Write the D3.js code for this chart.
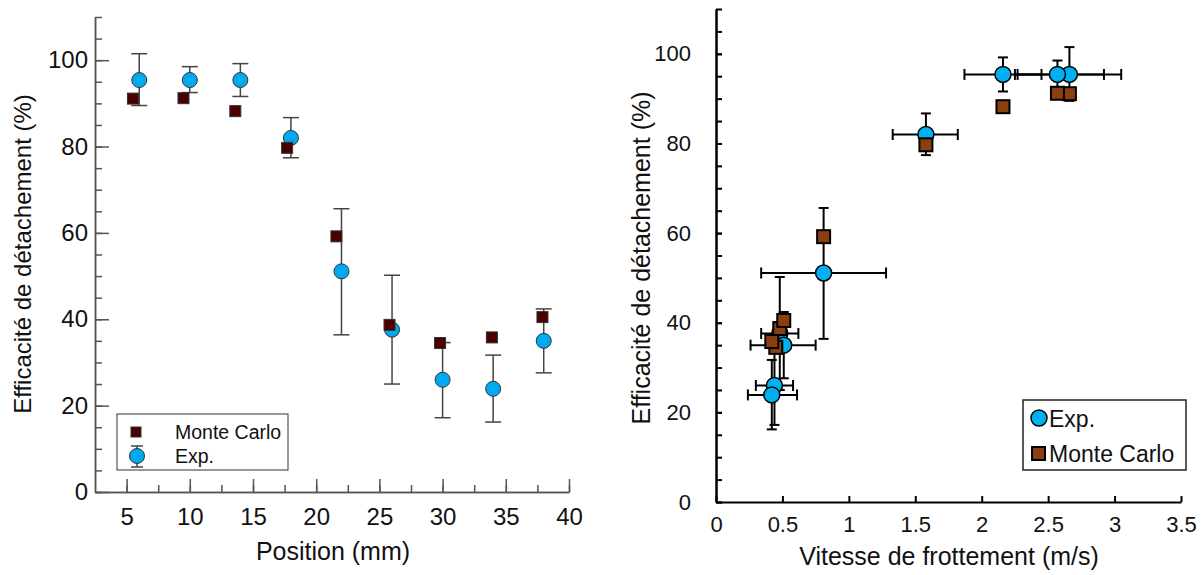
<!DOCTYPE html>
<html>
<head>
<meta charset="utf-8">
<script src="https://cdn.jsdelivr.net/npm/d3@7"></script>
<style>
  html, body { margin: 0; padding: 0; background: #fff; }
  svg { display: block; font-family: "Liberation Sans", Arial, sans-serif; }
  .axL path, .axL line { stroke: #555; stroke-width: 1.5; }
  .axR path, .axR line { stroke: #000; stroke-width: 2; }
  .axL text { fill: #111; font-size: 24px; font-family: "Liberation Sans", Arial, sans-serif; }
  .axR text { fill: #111; font-size: 22px; font-family: "Liberation Sans", Arial, sans-serif; }
</style>
</head>
<body>
<svg id="chart" width="1203" height="575"></svg>
<script>
// ---- data ----
var position = [6, 10, 14, 18, 22, 26, 30, 34, 38];
var expEff = [95.4, 95.4, 95.4, 82.0, 51.1, 37.6, 26.0, 23.9, 35.0];
var expLow = [89.5, 92.5, 91.6, 77.4, 36.4, 25.0, 17.2, 16.2, 27.6];
var expHigh = [101.5, 98.5, 99.2, 86.7, 65.6, 50.2, 34.6, 31.7, 42.4];
var mcPosition = [5.5, 9.5, 13.6, 17.7, 21.6, 25.8, 29.8, 33.9, 37.9];
var mcEff = [91.1, 91.2, 88.2, 79.7, 59.2, 38.7, 34.5, 35.8, 40.5];

var speed = [2.66, 2.57, 2.16, 1.58, 0.81, 0.48, 0.44, 0.42, 0.51];
var speedLow = [2.27, 2.25, 1.87, 1.33, 0.34, 0.34, 0.30, 0.24, 0.26];
var speedHigh = [3.05, 2.92, 2.45, 1.82, 1.28, 0.62, 0.58, 0.61, 0.75];
var mcSpeed = [2.66, 2.57, 2.16, 1.58, 0.81, 0.48, 0.45, 0.42, 0.51];

var posTicks = [5, 10, 15, 20, 25, 30, 35, 40];
var speedTicks = [0, 0.5, 1, 1.5, 2, 2.5, 3, 3.5];
var effTicks = [0, 20, 40, 60, 80, 100];

var svg = d3.select("#chart");

// ---- graphe gauche : efficacité vs position ----
var xL = d3.scaleLinear().domain([2.5, 40]).range([95, 569]);
var yL = d3.scaleLinear().domain([0, 110]).range([492, 17]);
var gL = svg.append("g");

gL.append("g").attr("class", "axL").attr("transform", "translate(0,492)")
  .call(d3.axisBottom(xL).tickValues(d3.range(5, 40.1, 2.5)).tickFormat("").tickSizeInner(-7).tickSizeOuter(0));
gL.append("g").attr("class", "axL").attr("transform", "translate(0,492)")
  .call(d3.axisBottom(xL).tickValues(posTicks).tickSizeInner(-13).tickSizeOuter(0).tickPadding(16));
gL.append("g").attr("class", "axL").attr("transform", "translate(95,0)")
  .call(d3.axisLeft(yL).tickValues(d3.range(0, 110.1, 5)).tickFormat("").tickSizeInner(-7).tickSizeOuter(0));
gL.append("g").attr("class", "axL").attr("transform", "translate(95,0)")
  .call(d3.axisLeft(yL).tickValues(effTicks).tickSizeInner(-14).tickSizeOuter(0).tickPadding(7));

gL.append("text").attr("x", 333).attr("y", 560).attr("text-anchor", "middle")
  .attr("font-size", 25).attr("fill", "#111").text("Position (mm)");
gL.append("text").attr("transform", "translate(31,254) rotate(-90)").attr("text-anchor", "middle")
  .attr("font-size", 24).attr("fill", "#111").text("Efficacité de détachement (%)");

// barres d'erreur
var ebL = gL.append("g").attr("stroke", "#444").attr("stroke-width", 1.5);
position.forEach(function (p, i) {
  ebL.append("line").attr("x1", xL(p)).attr("x2", xL(p)).attr("y1", yL(expLow[i])).attr("y2", yL(expHigh[i]));
  [expLow[i], expHigh[i]].forEach(function (v) {
    ebL.append("line").attr("x1", xL(p) - 8).attr("x2", xL(p) + 8).attr("y1", yL(v)).attr("y2", yL(v));
  });
});
gL.selectAll("circle.exp").data(position).enter().append("circle").attr("class", "exp")
  .attr("cx", function (d) { return xL(d); }).attr("cy", function (d, i) { return yL(expEff[i]); })
  .attr("r", 7.5).attr("fill", "#00aaf0").attr("stroke", "#333").attr("stroke-width", 1);
gL.selectAll("rect.mc").data(mcPosition).enter().append("rect").attr("class", "mc")
  .attr("x", function (d) { return xL(d) - 5.5; }).attr("y", function (d, i) { return yL(mcEff[i]) - 5.5; })
  .attr("width", 11).attr("height", 11).attr("fill", "#4a0000").attr("stroke", "#333").attr("stroke-width", 1);

// légende gauche
var lgL = gL.append("g");
lgL.append("rect").attr("x", 117).attr("y", 414).attr("width", 171).attr("height", 56)
  .attr("fill", "#fff").attr("stroke", "#333").attr("stroke-width", 1);
lgL.append("rect").attr("x", 131).attr("y", 427).attr("width", 10).attr("height", 10).attr("fill", "#4a0000").attr("stroke", "#333");
lgL.append("line").attr("x1", 137).attr("x2", 137).attr("y1", 446).attr("y2", 467).attr("stroke", "#444").attr("stroke-width", 1.5);
lgL.append("line").attr("x1", 131).attr("x2", 143).attr("y1", 446).attr("y2", 446).attr("stroke", "#444").attr("stroke-width", 1.5);
lgL.append("line").attr("x1", 131).attr("x2", 143).attr("y1", 467).attr("y2", 467).attr("stroke", "#444").attr("stroke-width", 1.5);
lgL.append("circle").attr("cx", 137).attr("cy", 456).attr("r", 7.5).attr("fill", "#00aaf0").attr("stroke", "#333");
lgL.append("text").attr("x", 175).attr("y", 439).attr("font-size", 19.5).attr("fill", "#111").text("Monte Carlo");
lgL.append("text").attr("x", 175).attr("y", 463).attr("font-size", 19.5).attr("fill", "#111").text("Exp.");

// ---- graphe droit : efficacité vs vitesse de frottement ----
var xR = d3.scaleLinear().domain([0, 3.5]).range([716, 1181]);
var yR = d3.scaleLinear().domain([0, 110]).range([502, 9]);
var gR = svg.append("g");

gR.append("g").attr("class", "axR").attr("transform", "translate(0,502)")
  .call(d3.axisBottom(xR).tickValues(speedTicks).tickFormat(d3.format("")).tickSizeInner(-6).tickSizeOuter(0).tickPadding(14));
gR.append("g").attr("class", "axR").attr("transform", "translate(716,0)")
  .call(d3.axisLeft(yR).tickValues(d3.range(0, 110.1, 5)).tickFormat("").tickSizeInner(-6).tickSizeOuter(0));
gR.append("g").attr("class", "axR").attr("transform", "translate(716,0)")
  .call(d3.axisLeft(yR).tickValues(effTicks).tickSizeInner(-6).tickSizeOuter(0).tickPadding(25));

gR.append("text").attr("x", 949).attr("y", 565).attr("text-anchor", "middle")
  .attr("font-size", 25).attr("fill", "#111").text("Vitesse de frottement (m/s)");
gR.append("text").attr("transform", "translate(650,258) rotate(-90)").attr("text-anchor", "middle")
  .attr("font-size", 25).attr("fill", "#111").text("Efficacité de détachement (%)");

var ebR = gR.append("g").attr("stroke", "#000").attr("stroke-width", 2);
speed.forEach(function (s, i) {
  var cx = xR(s), cy = yR(expEff[i]);
  ebR.append("line").attr("x1", cx).attr("x2", cx).attr("y1", yR(expLow[i])).attr("y2", yR(expHigh[i]));
  [expLow[i], expHigh[i]].forEach(function (v) {
    ebR.append("line").attr("x1", cx - 5).attr("x2", cx + 5).attr("y1", yR(v)).attr("y2", yR(v));
  });
  ebR.append("line").attr("x1", xR(speedLow[i])).attr("x2", xR(speedHigh[i])).attr("y1", cy).attr("y2", cy);
  [speedLow[i], speedHigh[i]].forEach(function (v) {
    ebR.append("line").attr("x1", xR(v)).attr("x2", xR(v)).attr("y1", cy - 5.5).attr("y2", cy + 5.5);
  });
});
gR.selectAll("circle.exp").data(speed).enter().append("circle").attr("class", "exp")
  .attr("cx", function (d) { return xR(d); }).attr("cy", function (d, i) { return yR(expEff[i]); })
  .attr("r", 8).attr("fill", "#00b0f0").attr("stroke", "#000").attr("stroke-width", 1.5);
gR.selectAll("rect.mc").data(mcSpeed).enter().append("rect").attr("class", "mc")
  .attr("x", function (d) { return xR(d) - 6.5; }).attr("y", function (d, i) { return yR(mcEff[i]) - 6.5; })
  .attr("width", 13).attr("height", 13).attr("fill", "#8a3f12").attr("stroke", "#000").attr("stroke-width", 2);

// légende droite
var lgR = gR.append("g");
lgR.append("rect").attr("x", 1023).attr("y", 400).attr("width", 163).attr("height", 70)
  .attr("fill", "#fff").attr("stroke", "#222").attr("stroke-width", 1.5);
lgR.append("circle").attr("cx", 1039).attr("cy", 418).attr("r", 8).attr("fill", "#00b0f0").attr("stroke", "#000").attr("stroke-width", 1.5);
lgR.append("rect").attr("x", 1032).attr("y", 447).attr("width", 13).attr("height", 13).attr("fill", "#8a3f12").attr("stroke", "#000").attr("stroke-width", 2);
lgR.append("text").attr("x", 1049).attr("y", 427).attr("font-size", 23).attr("fill", "#111").text("Exp.");
lgR.append("text").attr("x", 1049).attr("y", 462).attr("font-size", 23).attr("fill", "#111").text("Monte Carlo");
</script>
</body>
</html>
